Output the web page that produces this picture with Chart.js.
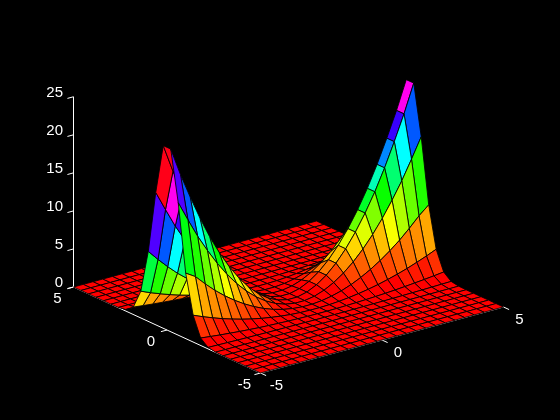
<!DOCTYPE html>
<html>
<head>
<meta charset="utf-8">
<style>
  html, body { margin: 0; background: #000; }
  canvas { display: block; }
</style>
<script src="https://cdn.jsdelivr.net/npm/chart.js@4"></script>
</head>
<body>
<canvas id="grafik" width="560" height="420"></canvas>
<script>
// grid of the surface
const xValues = [-5,-4.6,-4.2,-3.8,-3.4,-3,-2.6,-2.2,-1.8,-1.4,-1,-0.6,-0.2,0.2,0.6,1,1.4,1.8,2.2,2.6,3,3.4,3.8,4.2,4.6,5];
const yValues = [-5,-4.6,-4.2,-3.8,-3.4,-3,-2.6,-2.2,-1.8,-1.4,-1,-0.6,-0.2,0.2,0.6,1,1.4,1.8,2.2,2.6,3,3.4,3.8,4.2,4.6,5];

// heights, one row per y value
const zRows = [
  [0,0,0,0,0,0,0,0,0,0,0,0,0,0,0,0,0,0,0,0,0,0,0,0,0,0],
  [0,0,0,0,0,0,0,0,0,0,0,0,0,0,0,0,0,0,0,0,0,0,0,0,0,0],
  [0,0,0,0,0,0,0,0,0,0,0,0,0,0,0,0,0,0,0,0,0,0,0,0,0,0],
  [0,0,0,0,0,0,0,0,0,0,0,0,0,0,0,0,0,0,0,0,0,0,0,0,0,0],
  [0,0,0,0,0,0,0,0,0,0,0,0,0,0,0,0,0,0,0,0,0,0,0,0,0,0],
  [0,0,0,0,0,0,0,0,0,0,0,0,0,0,0,0,0,0,0,0,0,0,0,0,0,0],
  [.03,.02,.02,.02,.01,.01,.01,.01,0,0,0,0,0,0,0,0,0,0,.01,.01,.01,.01,.02,.02,.02,.03],
  [.2,.17,.14,.11,.09,.07,.05,.04,.03,.02,.01,0,0,0,0,.01,.02,.03,.04,.05,.07,.09,.11,.14,.17,.2],
  [.98,.83,.69,.57,.45,.35,.26,.19,.13,.08,.04,.01,0,0,.01,.04,.08,.13,.19,.26,.35,.45,.57,.69,.83,.98],
  [3.52,2.98,2.49,2.03,1.63,1.27,.95,.68,.46,.28,.14,.05,.01,.01,.05,.14,.28,.46,.68,.95,1.27,1.63,2.03,2.49,2.98,3.52],
  [8.6,7.8,6.5,5.3,4.25,3.31,2.49,1.78,1.19,.72,.37,.13,.01,.01,.13,.37,.72,1.19,1.78,2.49,3.31,4.25,5.3,6.5,7.8,8.9],
  [17.4,14.8,12.3,10.1,8.07,6.28,4.72,3.38,2.26,1.37,.7,.25,.03,.03,.25,.7,1.37,2.26,3.38,4.72,6.28,8.07,10.1,12.3,14.8,17.4],
  [24,20.3,17,13.9,11.1,8.65,6.5,4.65,3.11,1.88,.96,.35,.04,.04,.35,.96,1.88,3.11,4.65,6.5,8.65,11.1,13.9,17,20.3,24],
  [24,20.3,17,13.9,11.1,8.65,6.5,4.65,3.11,1.88,.96,.35,.04,.04,.35,.96,1.88,3.11,4.65,6.5,8.65,11.1,13.9,17,20.3,24],
  [17.4,14.8,12.3,10.1,8.07,6.28,4.72,3.38,2.26,1.37,.7,.25,.03,.03,.25,.7,1.37,2.26,3.38,4.72,6.28,8.07,10.1,12.3,14.8,17.4],
  [9.2,7.8,6.5,5.3,4.25,3.31,2.49,1.78,1.19,.72,.37,.13,.01,.01,.13,.37,.72,1.19,1.78,2.49,3.31,4.25,5.3,6.5,7.8,9.2],
  [3.52,2.98,2.49,2.03,1.63,1.27,.95,.68,.46,.28,.14,.05,.01,.01,.05,.14,.28,.46,.68,.95,1.27,1.63,2.03,2.49,2.98,3.52],
  [.98,.83,.69,.57,.45,.35,.26,.19,.13,.08,.04,.01,0,0,.01,.04,.08,.13,.19,.26,.35,.45,.57,.69,.83,.98],
  [.2,.17,.14,.11,.09,.07,.05,.04,.03,.02,.01,0,0,0,0,.01,.02,.03,.04,.05,.07,.09,.11,.14,.17,.2],
  [.03,.02,.02,.02,.01,.01,.01,.01,0,0,0,0,0,0,0,0,0,0,.01,.01,.01,.01,.02,.02,.02,.03],
  [0,0,0,0,0,0,0,0,0,0,0,0,0,0,0,0,0,0,0,0,0,0,0,0,0,0],
  [0,0,0,0,0,0,0,0,0,0,0,0,0,0,0,0,0,0,0,0,0,0,0,0,0,0],
  [0,0,0,0,0,0,0,0,0,0,0,0,0,0,0,0,0,0,0,0,0,0,0,0,0,0],
  [0,0,0,0,0,0,0,0,0,0,0,0,0,0,0,0,0,0,0,0,0,0,0,0,0,0],
  [0,0,0,0,0,0,0,0,0,0,0,0,0,0,0,0,0,0,0,0,0,0,0,0,0,0],
  [0,0,0,0,0,0,0,0,0,0,0,0,0,0,0,0,0,0,0,0,0,0,0,0,0,0]
];

const xTicks = [-5, 0, 5];
const yTicks = [-5, 0, 5];
const zTicks = [0, 5, 10, 15, 20, 25];

// 3D view -> the two chart scales (horizontal in pixels, vertical in z units)
function proj(x, y, z) {
  return {
    x: 288.5 + 24.3 * x - 18.7 * y,
    y: z + (6.6 * x + 8.6 * y - 10) / 7.61
  };
}

// flat facet colour, hsv colormap with 64 steps
function warna(z) {
  const zMaks = 24;
  const idx = Math.min(63, Math.floor(z / zMaks * 64));
  return `hsl(${idx / 64 * 360}, 100%, 50%)`;
}

function garis(titik) {
  return {
    data: titik, showLine: true, fill: false, clip: false,
    borderColor: '#fff', borderWidth: 1, pointRadius: 0
  };
}

// Chart.js paints dataset 0 last, so nearest facets go first
const datasets = [];
for (let j = 0; j < yValues.length - 1; j++) {
  for (let i = 0; i < xValues.length - 1; i++) {
    const x0 = xValues[i], x1 = xValues[i + 1];
    const y0 = yValues[j], y1 = yValues[j + 1];
    datasets.push({
      data: [
        proj(x0, y0, zRows[j][i]),
        proj(x1, y0, zRows[j][i + 1]),
        proj(x1, y1, zRows[j + 1][i + 1]),
        proj(x0, y1, zRows[j + 1][i]),
        proj(x0, y0, zRows[j][i])
      ],
      showLine: true, fill: 'shape', clip: false,
      backgroundColor: warna(zRows[j][i]),
      borderColor: '#000', borderWidth: 0.85, pointRadius: 0,
      borderJoinStyle: 'bevel'
    });
  }
}

// axis lines and tick marks sit behind the surface
datasets.push(garis([proj(-5, 5, 0), proj(-5, 5, 25)]));
datasets.push(garis([proj(-5, 5, 0), proj(-5, -5, 0), proj(5, -5, 0)]));
zTicks.forEach(v => datasets.push(garis([proj(-5, 5, v), proj(-5.25, 5, v)])));
xTicks.forEach(v => datasets.push(garis([proj(v, -5, 0), proj(v, -5.3, 0)])));
yTicks.forEach(v => datasets.push(garis([proj(-5, v, 0), proj(-5.25, v, 0)])));

// x and y tick labels follow the floor edges
const labelLantai = {
  id: 'labelLantai',
  afterDraw(chart) {
    const { ctx, scales } = chart;
    ctx.save();
    ctx.fillStyle = '#fff';
    ctx.font = '15px "Liberation Sans"';
    ctx.textAlign = 'center';
    ctx.textBaseline = 'middle';
    xTicks.forEach(v => {
      const p = proj(v, -5, 0);
      ctx.fillText(String(v), scales.x.getPixelForValue(p.x) + 16, scales.y.getPixelForValue(p.y) + 13);
    });
    yTicks.forEach(v => {
      const p = proj(-5, v, 0);
      ctx.fillText(String(v), scales.x.getPixelForValue(p.x) - 16, scales.y.getPixelForValue(p.y) + 12);
    });
    ctx.restore();
  }
};

new Chart(document.getElementById('grafik'), {
  type: 'scatter',
  data: { datasets },
  plugins: [labelLantai],
  options: {
    responsive: false,
    animation: false,
    events: [],
    layout: { padding: 0 },
    plugins: { legend: { display: false }, tooltip: { enabled: false } },
    scales: {
      x: { display: false, min: 73, max: 560 },
      y: {
        min: -133 / 7.61,
        max: 287 / 7.61,
        grid: { display: false },
        border: { display: false },
        afterFit: s => { s.width = 73; s.paddingTop = 0; s.paddingBottom = 0; },
        afterBuildTicks: s => { s.ticks = zTicks.map(value => ({ value })); },
        ticks: {
          color: '#fff',
          padding: 2,
          autoSkip: false,
          // empty second line lifts the number above its tick mark
          callback: v => [String(v), ''],
          font: { family: '"Liberation Sans"', size: 15, lineHeight: 0.5 }
        }
      }
    }
  }
});
</script>
</body>
</html>
